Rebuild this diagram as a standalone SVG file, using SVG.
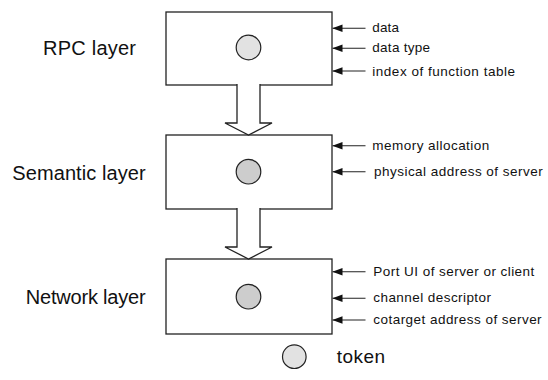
<svg xmlns="http://www.w3.org/2000/svg" width="548" height="380" viewBox="0 0 548 380">
<style>
.box{fill:#fff;stroke:#222;stroke-width:1.3}
.tok1{fill:#e2e2e2;stroke:#222;stroke-width:1.2}
.tok2{fill:#cdcdcd;stroke:#222;stroke-width:1.2}
.layer{font-family:"Liberation Sans",Arial,sans-serif;font-size:20px;fill:#111}
.lbl{font-family:"Liberation Sans",Arial,sans-serif;font-size:13.5px;fill:#111}
.tk{font-family:"Liberation Sans",Arial,sans-serif;font-size:19px;fill:#111}
.blk{fill:#fff;stroke:#222;stroke-width:1.3}
.in{stroke:#222;stroke-width:1.1;fill:none}
</style>
<defs>
<marker id="ah" markerUnits="userSpaceOnUse" markerWidth="10" markerHeight="8" refX="10" refY="4" orient="auto">
<path d="M0,0.3 L10,4 L0,7.7 z" fill="#111"/>
</marker>
</defs>
<g id="rpc">
<rect class="box" x="166" y="12" width="166" height="73"/>
<circle class="tok1" cx="248.5" cy="47.5" r="12.3"/>
<text class="layer" x="43" y="55" textLength="93">RPC layer</text>
<text class="lbl" x="372.3" y="32" textLength="26.7">data</text>
<text class="lbl" x="372.3" y="52.3" textLength="57.7">data type</text>
<text class="lbl" x="372.3" y="75.5" textLength="142.7">index of function table</text>
</g>
<g id="semantic">
<rect class="box" x="166" y="135" width="166" height="74"/>
<circle class="tok2" cx="248.5" cy="171.7" r="12.3"/>
<text class="layer" x="12.3" y="180" textLength="133.4">Semantic layer</text>
<text class="lbl" x="372.3" y="149.8" textLength="117">memory allocation</text>
<text class="lbl" x="374" y="175.8" textLength="168.7">physical address of server</text>
</g>
<g id="network">
<rect class="box" x="166" y="259" width="166" height="75"/>
<circle class="tok2" cx="248.5" cy="296.7" r="12.3"/>
<text class="layer" x="25.7" y="304" textLength="120">Network layer</text>
<text class="lbl" x="373.3" y="275.8" textLength="161">Port UI of server or client</text>
<text class="lbl" x="373.3" y="302.3" textLength="117.7">channel descriptor</text>
<text class="lbl" x="373.3" y="324.2" textLength="168.3">cotarget address of server</text>
</g>
<g id="legend">
<circle class="tok1" cx="294.3" cy="356.7" r="11.8"/>
<text class="tk" x="336.7" y="363" textLength="48.3">token</text>
</g>
<g id="connectors">
<path class="blk" d="M237,84 V123 H225 L248.5,135 L272,123 H260 V84"/>
<path class="blk" d="M237,208 V247 H225 L248.5,259 L272,247 H260 V208"/>
<line class="in" x1="365.5" y1="28.3" x2="332.5" y2="28.3" marker-end="url(#ah)"/>
<line class="in" x1="365.5" y1="48.3" x2="332.5" y2="48.3" marker-end="url(#ah)"/>
<line class="in" x1="365.5" y1="71" x2="332.5" y2="71" marker-end="url(#ah)"/>
<line class="in" x1="365.5" y1="145.7" x2="332.5" y2="145.7" marker-end="url(#ah)"/>
<line class="in" x1="365.5" y1="171.7" x2="332.5" y2="171.7" marker-end="url(#ah)"/>
<line class="in" x1="365.5" y1="271.7" x2="332.5" y2="271.7" marker-end="url(#ah)"/>
<line class="in" x1="365.5" y1="298.3" x2="332.5" y2="298.3" marker-end="url(#ah)"/>
<line class="in" x1="365.5" y1="320" x2="332.5" y2="320" marker-end="url(#ah)"/>
</g>
</svg>
